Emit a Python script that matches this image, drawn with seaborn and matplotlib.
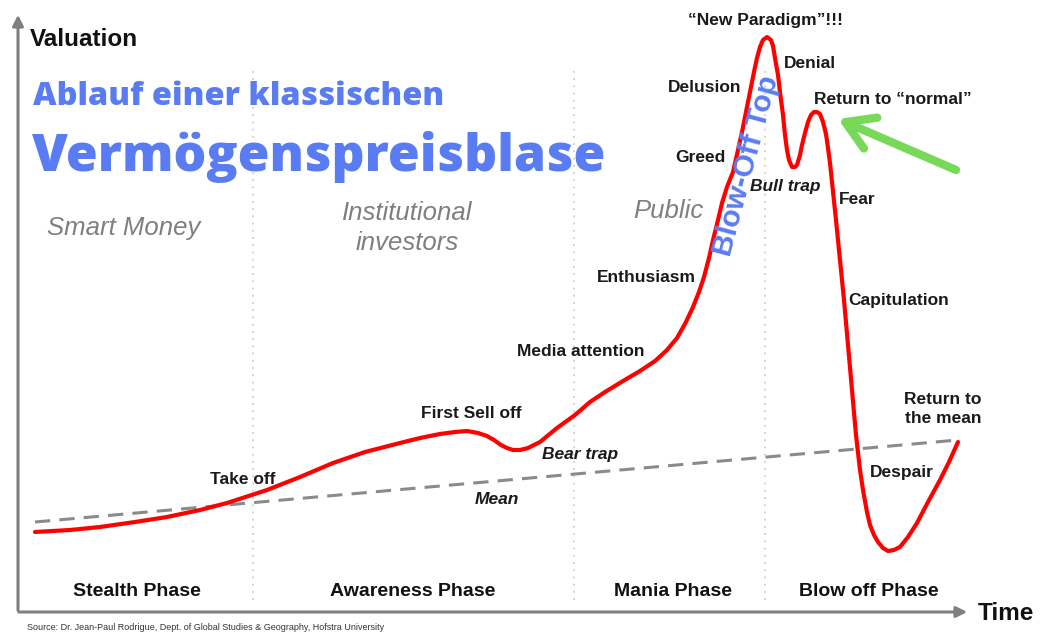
import numpy as np
import pandas as pd
import matplotlib
matplotlib.use("Agg")
import matplotlib.pyplot as plt
import seaborn as sns

sns.set_theme(style="white")
plt.rcParams['font.family'] = ['Liberation Sans', 'DejaVu Sans']

# Bubble curve (time -> valuation, picture units)
zeit = [35, 70, 100, 135, 167, 200, 227, 267, 300, 333, 365, 400, 420, 440, 455,
        467, 478, 487, 494, 501, 507, 513, 520, 528, 540, 557, 575, 590, 605, 623,
        640, 655, 667, 677, 686, 693, 699, 704, 709, 713, 718, 722, 727, 733, 738,
        742, 746, 750, 754, 757, 760, 763, 767, 771, 773, 775, 778, 780, 783, 785,
        787, 789, 792, 795, 797, 800, 802, 805, 808, 811, 814, 817, 820, 823, 826,
        828, 830, 832, 836, 840, 844, 848, 852, 856, 860, 863, 867, 870, 874, 878,
        883, 888, 894, 900, 908, 917, 928, 940, 949, 958]
kurs_px = [532, 530, 527, 522, 517, 510, 503, 490, 477, 463, 452, 443, 438, 434, 432,
           431, 433, 436, 440, 445, 448, 450, 450, 448, 442, 428, 415, 402, 392, 381,
           371, 361, 350, 338, 322, 307, 292, 277, 258, 240, 220, 203, 187, 172, 150,
           132, 112, 92, 72, 58, 47, 40, 37, 40, 46, 58, 75, 92, 115, 135,
           150, 160, 167, 167, 165, 155, 145, 133, 122, 115, 112, 112, 114, 122, 134,
           148, 163, 182, 220, 260, 300, 345, 390, 435, 470, 490, 512, 525, 535, 542,
           548, 551, 550, 547, 537, 523, 502, 480, 462, 442]
H = 635
bewertung = [H - v for v in kurs_px]

mittel_zeit = [35, 958]
mittel_wert = [H - 522, H - 440]

phasen = ['Stealth Phase', 'Awareness Phase', 'Mania Phase', 'Blow off Phase']
phasen_x = [137, 413, 673, 869]
grenzen = [253, 574, 765]

df_kurve = pd.DataFrame({'Zeit': zeit, 'Bewertung': bewertung})
df_mittel = pd.DataFrame({'Zeit': mittel_zeit, 'Bewertung': mittel_wert})

fig = plt.figure(figsize=(10.49, 6.35), dpi=100)
ax = fig.add_axes([0, 0, 1, 1])
ax.set_xlim(0, 1049)
ax.set_ylim(0, H)
ax.axis('off')

# phase separators
for g in grenzen:
    ax.plot([g, g], [H - 600, H - 68], color='#cfcfcf', lw=1.3, ls=(0, (1, 3)), zorder=1)

sns.lineplot(data=df_mittel, x='Zeit', y='Bewertung', ax=ax, color='#8a8a8a',
             lw=2.2, linestyle=(0, (5, 3)), zorder=2)
sns.lineplot(data=df_kurve, x='Zeit', y='Bewertung', ax=ax, color='#ff0000',
             lw=3.0, sort=False, zorder=3, solid_joinstyle='round', solid_capstyle='round')

# axes arrows
ax.annotate('', xy=(18, H - 12), xytext=(18, H - 613),
            arrowprops=dict(arrowstyle='-|>', color='#7f7f7f', lw=2.2, mutation_scale=16))
ax.annotate('', xy=(970, H - 612), xytext=(16, H - 612),
            arrowprops=dict(arrowstyle='-|>', color='#7f7f7f', lw=2.2, mutation_scale=16))

ax.text(30, H - 40, 'Valuation', fontsize=17.5, fontweight='bold', va='center', color='#111111')
ax.text(978, H - 613, 'Time', fontsize=17.5, fontweight='bold', va='center', color='#111111')

blau = '#5a7cf2'
ax.text(33, H - 97, 'Ablauf einer klassischen', fontsize=23.4, fontweight=800,
        family='Open Sans', color=blau, va='center')
ax.text(32, H - 157, 'Vermögenspreisblase', fontsize=37.2, fontweight=800,
        family='Open Sans', color=blau, va='center')

grau = '#7f7f7f'
ax.text(124, H - 228, 'Smart Money', fontsize=18.5, style='italic', color=grau, ha='center', va='center')
ax.text(407, H - 228, 'Institutional\ninvestors', fontsize=18.5, style='italic', color=grau,
        ha='center', va='center', linespacing=1.3)
ax.text(668, H - 211, 'Public', fontsize=18.5, style='italic', color=grau, ha='center', va='center')

ax.text(746, H - 166, 'Blow-Off Top', fontsize=21.5, fontweight='bold', color=blau,
        rotation=75, ha='center', va='center', rotation_mode='anchor')

labels = [
    ('\u201cNew Paradigm\u201d!!!', 765, 20, 'normal'),
    ('Delusion', 705, 87, 'normal'),
    ('Denial', 810, 63, 'normal'),
    ('Return to \u201cnormal\u201d', 893, 100, 'normal'),
    ('Greed', 700, 158, 'normal'),
    ('Bull trap', 785, 187, 'italic'),
    ('Fear', 857, 199, 'normal'),
    ('Enthusiasm', 646, 278, 'normal'),
    ('Capitulation', 899, 300, 'normal'),
    ('Media attention', 581, 351, 'normal'),
    ('First Sell off', 471, 413, 'normal'),
    ('Bear trap', 580, 454, 'italic'),
    ('Take off', 243, 479, 'normal'),
    ('Mean', 497, 499, 'italic'),
    ('Return to\nthe mean', 943, 409, 'normal'),
    ('Despair', 902, 472, 'normal'),
]
for txt, x, y, st in labels:
    ax.text(x, H - y, txt, fontsize=12.5, fontweight='bold', style=st, color='#1a1a1a',
            ha='center', va='center', linespacing=1.35)

for name, x in zip(phasen, phasen_x):
    ax.text(x, H - 591, name, fontsize=14, fontweight='bold', color='#111111',
            ha='center', va='center')

ax.annotate('', xy=(838, H - 119), xytext=(956, H - 170),
            arrowprops=dict(arrowstyle='->,head_length=0.9,head_width=0.55', color='#78d858',
                            lw=6, mutation_scale=22, shrinkA=0, shrinkB=0,
                            capstyle='round', joinstyle='round'))

ax.text(27, H - 628, 'Source: Dr. Jean-Paul Rodrigue, Dept. of Global Studies & Geography, Hofstra University',
        fontsize=6.5, color='#333333', va='center')

fig.savefig('out.png', dpi=100)
